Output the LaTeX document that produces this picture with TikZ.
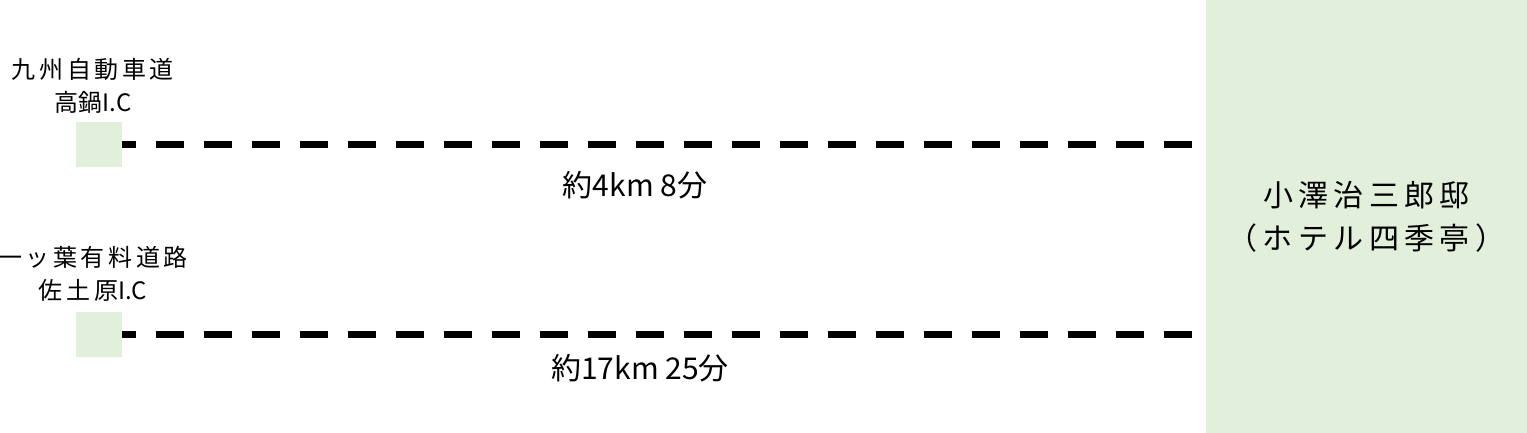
\documentclass[tikz,border=0pt]{standalone}
\usepackage{fontspec}
\usetikzlibrary{positioning}
\newfontfamily\jpfont{Noto Sans CJK JP}
\newfontfamily\jpwide[LetterSpace=15]{Noto Sans CJK JP}
\newfontfamily\jpbig[LetterSpace=18]{Noto Sans CJK JP}
\definecolor{icgreen}{HTML}{E2EFDA}

\begin{document}
\begin{tikzpicture}[x=1pt,y=-1pt,
    ic/.style={fill=icgreen,minimum width=46pt,minimum height=45pt,inner sep=0pt},
    hotel/.style={fill=icgreen,minimum width=321pt,minimum height=433pt,inner sep=0pt,align=center,font=\fontsize{30}{43}\selectfont\jpbig},
    place/.style={align=center,font=\fontsize{24}{33}\selectfont\jpwide,inner sep=0pt},
    route/.style={line width=7pt,dash pattern=on 28pt off 20pt,dash phase=14pt,shorten >=10pt},
    dist/.style={font=\fontsize{30}{34}\selectfont\jpfont,inner sep=0pt}
  ]
    \useasboundingbox (0,0) rectangle (1527,433);

    % Destination
    \node[hotel] (osawa) at (1366.5,216.5) {小澤治三郎邸\\（ホテル四季亭）};

    % Interchanges
    \node[ic] (takanabe) at (99,144.5) {};
    \node[ic] (sadowara) at (98.5,334) {};
    \node[place] (takanabename) at (93,85.5) {九州自動車道\\{\jpfont 高鍋I.C}};
    \node[place] (sadowaraname) at (93,274) {一ッ葉有料道路\\佐土原{\jpfont I.C}};

    % Routes
    \draw[route] (takanabe.east) -- (takanabe.east -| osawa.west);
    \draw[route] (sadowara.east) -- (sadowara.east -| osawa.west);
    \node[dist] (near) at (635,185) {約4km 8分};
    \node[dist] (far) at (640,368) {約17km 25分};
\end{tikzpicture}
\end{document}
